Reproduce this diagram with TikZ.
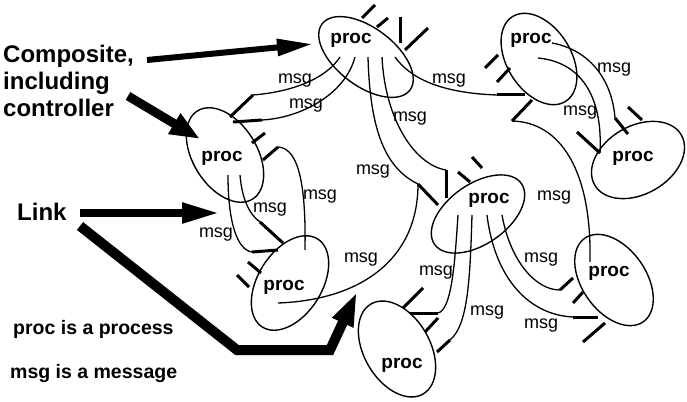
\documentclass[tikz,border=0pt]{standalone}
\usepackage{fontspec}
\setmainfont{Liberation Sans}
\usetikzlibrary{shapes.geometric,arrows.meta}
\begin{document}
\begin{tikzpicture}[x=1pt,y=-1pt,
  ell/.style={draw, ellipse, line width=1.4pt, inner sep=0pt},
  lnk/.style={line width=1.3pt},
  stub/.style={line width=3pt},
  msgl/.style={font=\fontsize{18}{18}\selectfont, inner sep=0pt},
  proct/.style={font=\bfseries\fontsize{19}{19}\selectfont, inner sep=0pt},
  bigtext/.style={font=\bfseries\fontsize{24}{24}\selectfont, inner sep=0pt, anchor=base west},
  legtext/.style={font=\bfseries\fontsize{19.5}{19.5}\selectfont, inner sep=0pt, anchor=base west},
  bigarrow/.style={line width=#1, line join=miter},
]
\useasboundingbox (0,0) rectangle (687,401);

% ---------- processes ----------
\node[ell, minimum width=110pt, minimum height=58pt, rotate=-37] (E1) at (366,57) {};
\node[ell, minimum width=100pt, minimum height=64pt, rotate=-58] (E2) at (539,59) {};
\node[ell, minimum width=100pt, minimum height=68pt, rotate=30]  (E3) at (638,160) {};
\node[ell, minimum width=104pt, minimum height=64pt, rotate=-58] (E4) at (225,155) {};
\node[ell, minimum width=104pt, minimum height=64pt, rotate=58]  (E5) at (290,283) {};
\node[ell, minimum width=106pt, minimum height=60pt, rotate=35]  (E6) at (478,214) {};
\node[ell, minimum width=104pt, minimum height=66pt, rotate=-60] (E7) at (397,349) {};
\node[ell, minimum width=102pt, minimum height=64pt, rotate=-55] (E8) at (614,280) {};

\node[proct] (T1) at (351,40) {proc};
\node[proct] (T2) at (531,40) {proc};
\node[proct] (T3) at (633,158) {proc};
\node[proct] (T4) at (222,158) {proc};
\node[proct] (T5) at (284,287) {proc};
\node[proct] (T6) at (489,200) {proc};
\node[proct] (T7) at (402,365) {proc};
\node[proct] (T8) at (609,273) {proc};

% ---------- link end points ----------
\coordinate (a1) at (340,57);  \coordinate (a1e) at (253,95);  \coordinate (a1p) at (230,117);
\coordinate (a2) at (355,57);  \coordinate (a2e) at (262,120); \coordinate (a2p) at (233,122);
\coordinate (a3) at (368,57);  \coordinate (a3e) at (418,184); \coordinate (a3p) at (438,205);
\coordinate (a4) at (382,57);  \coordinate (a4e) at (446,170); \coordinate (a4p) at (446,198);
\coordinate (a5) at (395,57);  \coordinate (a5e) at (497,95);  \coordinate (a5p) at (525,95);
\coordinate (a6) at (538,58);  \coordinate (a6e) at (600,153); \coordinate (a6p) at (577,132);
\coordinate (a7) at (552,43);  \coordinate (a7e) at (615,118); \coordinate (a7p) at (628,134);
\coordinate (a8) at (590,262); \coordinate (a8e) at (512,121); \coordinate (a8p) at (532,100);
\coordinate (a9) at (458,215); \coordinate (a9e) at (438,313); \coordinate (a9p) at (410,313);
\coordinate (a10) at (472,215); \coordinate (a10e) at (450,340); \coordinate (a10p) at (437,352);
\coordinate (a11) at (487,215); \coordinate (a11e) at (573,317); \coordinate (a11p) at (598,317);
\coordinate (a12) at (502,215); \coordinate (a12e) at (560,290); \coordinate (a12p) at (573,278);
\coordinate (a13) at (228,175); \coordinate (a13e) at (252,252); \coordinate (a13p) at (278,250);
\coordinate (a14) at (240,175); \coordinate (a14e) at (260,222); \coordinate (a14p) at (283,243);
\coordinate (a15) at (305,250); \coordinate (a15e) at (278,147); \coordinate (a15p) at (263,160);
\coordinate (a16) at (278,303);

% ---------- links ----------
\draw[lnk] (a1) .. controls (325,80) and (290,92) .. (a1e);
\draw[lnk] (a2) .. controls (345,95) and (300,118) .. (a2e);
\draw[lnk] (a3) .. controls (370,130) and (385,168) .. (a3e);
\draw[lnk] (a4) .. controls (385,120) and (415,165) .. (a4e);
\draw[lnk] (a5) .. controls (410,78) and (440,93) .. (a5e);
\draw[lnk] (a6) .. controls (580,62) and (603,95) .. (a6e);
\draw[lnk] (a7) .. controls (590,50) and (612,80) .. (a7e);
\draw[lnk] (a8) .. controls (592,170) and (560,122) .. (a8e);
\draw[lnk] (a9) .. controls (455,260) and (452,310) .. (a9e);
\draw[lnk] (a10) .. controls (470,280) and (468,325) .. (a10e);
\draw[lnk] (a11) .. controls (495,280) and (530,315) .. (a11e);
\draw[lnk] (a12) .. controls (510,260) and (535,290) .. (a12e);
\draw[lnk] (a13) .. controls (228,225) and (238,250) .. (a13e);
\draw[lnk] (a14) .. controls (242,200) and (250,215) .. (a14e);
\draw[lnk] (a15) .. controls (306,190) and (300,148) .. (a15e);
\draw[lnk] (a16) .. controls (360,300) and (418,260) .. (a3e);

\foreach \i in {1,...,15} {\draw[stub] (a\i e) -- (a\i p);}

% ---------- free ports ----------
\draw[stub] (362,18) -- (375,5);
\draw[stub] (377,27) -- (388,18);
\draw[stub] (400,17) -- (400,43);
\draw[stub] (405,50) -- (428,28);
\draw[stub] (485,68) -- (498,55);
\draw[stub] (497,82) -- (510,68);
\draw[stub] (628,107) -- (642,120);
\draw[stub] (458,172) -- (470,182);
\draw[stub] (472,157) -- (482,168);
\draw[stub] (403,308) -- (423,288);
\draw[stub] (425,332) -- (438,318);
\draw[stub] (573,303) -- (583,292);
\draw[stub] (583,342) -- (605,323);
\draw[stub] (252,143) -- (265,133);
\draw[stub] (237,275) -- (249,287);
\draw[stub] (248,262) -- (261,273);

% ---------- message labels ----------
\node[msgl] (m1) at (295,81) {msg};
\node[msgl] (m2) at (306,106) {msg};
\node[msgl] (m3) at (449,81) {msg};
\node[msgl] (m4) at (410,119) {msg};
\node[msgl] (m5) at (373,172) {msg};
\node[msgl] (m6) at (614,70) {msg};
\node[msgl] (m7) at (580,113) {msg};
\node[msgl] (m8) at (554,198) {msg};
\node[msgl] (m9) at (541,260) {msg};
\node[msgl] (m10) at (541,326) {msg};
\node[msgl] (m11) at (487,313) {msg};
\node[msgl] (m12) at (436,273) {msg};
\node[msgl] (m13) at (361,260) {msg};
\node[msgl] (m14) at (320,197) {msg};
\node[msgl] (m15) at (270,210) {msg};
\node[msgl] (m16) at (216,235) {msg};

% ---------- annotations ----------
\node[bigtext] (c1) at (3,63) {Composite,};
\node[bigtext] (c2) at (3,90) {including};
\node[bigtext] (c3) at (3,117) {controller};
\node[bigtext] (lk) at (17,220) {Link};
\node[legtext] (l1) at (13,334) {proc is a process};
\node[legtext] (l2) at (10,378) {msg is a message};

\coordinate (p1s) at (147,60);  \coordinate (p1t) at (313,44);
\coordinate (p2s) at (128,96);  \coordinate (p2t) at (200,139);
\coordinate (p3s) at (80,213);  \coordinate (p3t) at (220,213);
\coordinate (p4s) at (80,226);  \coordinate (p4a) at (237,350); \coordinate (p4b) at (330,350); \coordinate (p4t) at (357,292);

\draw[bigarrow=6pt, -{Triangle[length=36pt,width=16pt]}] (p1s) -- (p1t);
\draw[bigarrow=9pt, -{Triangle[length=30pt,width=22pt]}] (p2s) -- (p2t);
\draw[bigarrow=8pt, -{Triangle[length=38pt,width=19pt]}] (p3s) -- (p3t);
\draw[bigarrow=10pt, -{Triangle[length=34pt,width=21pt]}] (p4s) -- (p4a) -- (p4b) -- (p4t);
\end{tikzpicture}
\end{document}
